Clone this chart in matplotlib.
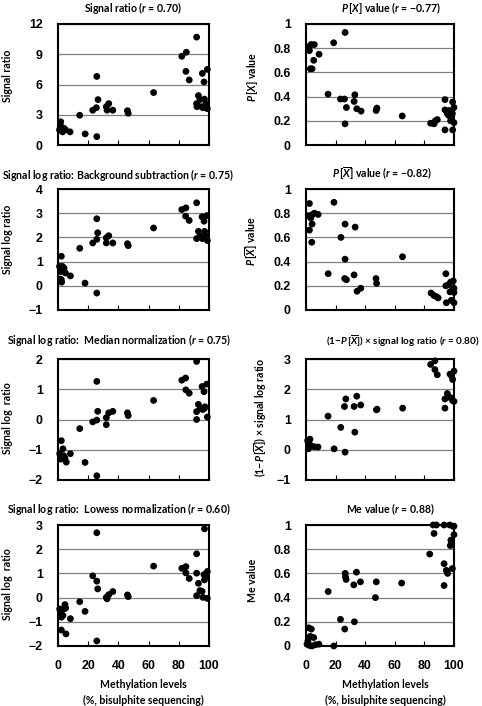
import matplotlib
matplotlib.use('Agg')
import matplotlib.pyplot as plt

plt.rcParams['mathtext.fontset'] = 'custom'
plt.rcParams['mathtext.rm'] = 'Lato:bold'
plt.rcParams['mathtext.it'] = 'Lato:italic:bold'
plt.rcParams['mathtext.bf'] = 'Lato:bold'

# ---------------- data ----------------
sr_x = [1.8, 2.2, 1, 3, 4, 5, 8, 14.4, 18, 25.7, 26.5, 25.4, 23, 25.7, 32, 33.6, 32.5, 36.3, 46, 46.5,
        63.3, 82, 85, 84.7, 86.9, 91.8, 93, 91.8, 92, 94, 95.6, 96.7, 97, 98, 98.9, 98.9, 96, 95]
sr_y = [2.3, 1.8, 1.5, 1.3, 1.65, 1.5, 1.3, 2.95, 1.1, 6.8, 4.5, 3.7, 3.45, 0.83, 3.8, 4.1, 3.45, 3.45, 3.4, 3.15,
        5.2, 8.8, 9.2, 7.3, 6.45, 10.7, 4.9, 4.1, 3.8, 4.5, 7.1, 6.25, 4.55, 4.1, 7.5, 3.6, 3.7, 3.8]

px_x = [1.8, 2.3, 3.4, 5.6, 2.9, 4.1, 5.2, 8.8, 18.7, 26.4, 14.9, 23.3, 26, 27.3, 26.4, 33, 32.5, 34.3, 37.2,
        47.4, 47.9, 65, 84.2, 86.5, 87.4, 88.7, 93.9, 93.9, 93.9, 95.5, 96.4, 97.7, 99.1, 98.9, 99.1, 100,
        100, 96.6, 98.2]
px_y = [0.81, 0.78, 0.83, 0.83, 0.63, 0.63, 0.70, 0.75, 0.845, 0.93, 0.42, 0.38, 0.38, 0.31, 0.175, 0.415,
        0.36, 0.30, 0.28, 0.285, 0.305, 0.24, 0.18, 0.175, 0.20, 0.21, 0.375, 0.29, 0.125, 0.26, 0.245, 0.20,
        0.355, 0.26, 0.125, 0.31, 0.185, 0.285, 0.21]

bg_x = [2.2, 1, 2.9, 4, 1.8, 4.9, 8.2, 1.5, 2.4, 2.2, 14.4, 17.9, 25.7, 26.3, 25.7, 23, 25.7, 32, 33.6, 32,
        36.3, 46, 46.5, 63.3, 82, 84.7, 84.5, 86.9, 91.8, 93, 91.8, 95.4, 96.7, 97.1, 97.3, 98.5, 98.9, 95.6,
        94, 96.7]
bg_y = [1.22, 0.80, 0.80, 0.73, 0.59, 0.53, 0.41, 0.28, 0.15, 0.25, 1.55, 0.11, 2.77, 2.19, 1.92, 1.77, -0.30,
        1.98, 2.07, 1.77, 1.77, 1.74, 1.66, 2.39, 3.15, 3.22, 2.88, 2.70, 3.43, 2.25, 1.95, 2.85, 2.67, 2.25,
        2.1, 2.9, 1.87, 1.95, 2.05, 2.0]

pxb_x = [2.3, 1.8, 3.2, 4.5, 5.7, 8.2, 4.1, 2.3, 3.9, 18.9, 15, 23.6, 26.4, 26.4, 26.1, 27.3, 33.2, 32.5, 34.5,
         37, 47.3, 47.7, 65.2, 84.5, 86.4, 88.2, 89.3, 94.5, 94.5, 94.8, 96.4, 97.7, 99.5, 98.9, 98.2, 100,
         100, 100, 97.3]
pxb_y = [0.88, 0.78, 0.76, 0.79, 0.80, 0.79, 0.71, 0.66, 0.56, 0.89, 0.30, 0.60, 0.71, 0.42, 0.26, 0.25, 0.685,
         0.29, 0.155, 0.18, 0.26, 0.22, 0.44, 0.14, 0.12, 0.11, 0.10, 0.30, 0.20, 0.06, 0.21, 0.23, 0.24, 0.165,
         0.08, 0.06, 0.145, 0.18, 0.15]

med_x = [2.2, 3.3, 1.1, 2.2, 3.8, 4.6, 5.5, 8.2, 1.8, 14.4, 17.9, 25.7, 26.3, 25.7, 23, 25.7, 32, 33.6, 32,
         36.3, 46, 46.5, 63.3, 82, 84.5, 84.7, 86.9, 91.8, 93, 91.8, 91.8, 95.4, 96.7, 97, 94.2, 98.5, 98.9,
         97.3, 95.8]
med_y = [-0.70, -0.97, -1.13, -1.22, -1.2, -1.28, -1.41, -1.13, -1.31, -0.30, -1.42, 1.26, 0.27, -0.02, -0.08,
         -1.86, 0.06, 0.22, -0.17, 0.27, 0.22, 0.13, 0.63, 1.3, 1.37, 0.98, 0.87, 1.92, 0.5, 0.26, 0.0, 1.09,
         0.92, 0.37, 0.36, 1.17, 0.08, 0.42, 0.33]

wlr_x = [1.1, 2.7, 2.3, 3.8, 1.6, 5.6, 8.1, 14.9, 19, 26.9, 26, 23.5, 26.4, 34.3, 32.5, 37, 33, 47.6, 48,
         65.3, 84.2, 87.1, 87.1, 88.7, 93.9, 93.9, 95.5, 96.4, 97.7, 98.2, 99.1, 100, 99.1, 100, 97.3]
wlr_y = [0.30, 0.35, 0.18, 0.125, 0.03, 0.1, 0.09, 1.11, 0.03, 1.68, 1.43, 0.74, -0.08, 1.77, 1.43, 1.48, 0.58,
         1.32, 1.34, 1.375, 2.82, 2.94, 2.65, 2.48, 1.375, 1.68, 1.86, 1.75, 1.72, 2.45, 2.32, 2.6, 1.625, 1.6,
         2.5]

low_x = [1.1, 1.8, 2.2, 3.3, 4, 4.6, 5.1, 8.2, 2.2, 5.3, 14.4, 17.9, 25.7, 23, 25.7, 26.3, 25.7, 32, 33.6,
         32.5, 36.3, 46, 46.5, 63.3, 82, 84.7, 84.7, 86.9, 91.8, 91.8, 93, 91.8, 94, 95.4, 96.7, 97, 98, 97,
         98.9, 98.9, 96]
low_y = [-0.47, -0.65, -0.81, -0.74, -0.47, -0.29, -0.43, -0.87, -1.34, -1.5, -0.17, -0.57, 2.68, 0.90, 0.68,
         0.36, -1.79, 0.01, 0.12, -0.05, 0.25, 0.11, 0.04, 1.30, 1.21, 1.28, 1.02, 0.79, 1.81, 1.01, 0.59, 0.08,
         0.29, 0.26, 0.95, 0.73, 0.88, 2.84, 1.08, -0.03, 0.01]

me_x = [1.8, 3.6, 2.9, 5.2, 1.3, 2.2, 4, 6.3, 8.7, 0.7, 15, 18.8, 23.3, 26.5, 26.7, 27.1, 26.2, 32.3, 34.1,
        32.7, 36.8, 47.5, 46.9, 64.6, 83.6, 85.9, 88.1, 86.5, 93.3, 93.3, 93.3, 94.8, 95.7, 97.1, 97.5, 98.4,
        99.3, 100, 100, 98.9, 97.9]
me_y = [0.15, 0.14, 0.08, 0.07, 0.04, 0.005, 0.0, 0.01, 0.015, 0.015, 0.45, 0.0, 0.22, 0.60, 0.57, 0.55, 0.14,
        0.505, 0.61, 0.20, 0.53, 0.53, 0.40, 0.52, 0.76, 1.0, 1.0, 0.93, 1.0, 0.68, 0.50, 0.625, 0.60, 1.0,
        0.83, 0.86, 0.99, 0.99, 0.92, 0.64, 0.875]

x_ticks = [0, 20, 40, 60, 80, 100]
x_ticklabels = ['0', '20', '40', '60', '80', '100']

yt_sr = [0, 3, 6, 9, 12]
yl_sr = ['0', '3', '6', '9', '12']
yt_p = [0, 0.2, 0.4, 0.6, 0.8, 1]
yl_p = ['0', '0.2', '0.4', '0.6', '0.8', '1']
yt_bg = [-1, 0, 1, 2, 3, 4]
yl_bg = ['\u22121', '0', '1', '2', '3', '4']
yt_med = [-2, -1, 0, 1, 2]
yl_med = ['\u22122', '\u22121', '0', '1', '2']
yt_wlr = [-1, 0, 1, 2, 3]
yl_wlr = ['\u22121', '0', '1', '2', '3']
yt_low = [-2, -1, 0, 1, 2, 3]
yl_low = ['\u22122', '\u22121', '0', '1', '2', '3']

titles = [
    'Signal ratio ($r$ = 0.70)',
    '$P\\,[X]$ value ($r$ = \u22120.77)',
    'Signal log ratio: Background subtraction ($r$ = 0.75)',
    '$P\\,[\\overline{X}]$ value ($r$ = \u22120.82)',
    'Signal log ratio:  Median normalization ($r$ = 0.75)',
    '(1\u2212$P\\,[\\overline{X}]$) \u00d7 signal log ratio ($r$ = 0.80)',
    'Signal log ratio:  Lowess normalization ($r$ = 0.60)',
    'Me value ($r$ = 0.88)',
]
ylabels = [
    'Signal ratio', '$P\\,[X]$ value',
    'Signal log ratio', '$P\\,[\\overline{X}]$ value',
    'Signal log  ratio', '(1\u2212$P\\,[\\overline{X}]$) \u00d7 signal log ratio',
    'Signal log  ratio', 'Me value',
]

panels = [
    (sr_x, sr_y, yt_sr, yl_sr),
    (px_x, px_y, yt_p, yl_p),
    (bg_x, bg_y, yt_bg, yl_bg),
    (pxb_x, pxb_y, yt_p, yl_p),
    (med_x, med_y, yt_med, yl_med),
    (wlr_x, wlr_y, yt_wlr, yl_wlr),
    (low_x, low_y, yt_low, yl_low),
    (me_x, me_y, yt_p, yl_p),
]

# ---------------- layout (pixels) ----------------
W, H = 482, 706
fig = plt.figure(figsize=(W / 100, H / 100), dpi=100)

col_left = [(58, 151), (306, 148)]
row_top = [24, 189, 359, 525]
ax_h = 121

title_pos = [(133, 8), (391, 8), (118, 175), (382, 174), (119, 340), (403, 341), (119, 509), (390, 509)]
title_size = [7.6, 7.6, 7.6, 7.6, 7.6, 7.1, 7.6, 7.6]
ylabel_x = [13, 260, 13, 260, 13, 269, 13, 258]
ylabel_y = [0.57, 0.56, 0.587, 0.57, 0.51, 0.52, 0.51, 0.54]

title_font = dict(family='Lato', weight='bold', size=7.6)
tick_font = dict(family='Liberation Sans', weight='bold', size=8.9)

for i, (xs, ys, yt, yl) in enumerate(panels):
    r, c = divmod(i, 2)
    left, width = col_left[c]
    top = row_top[r]
    ax = fig.add_axes([left / W, (H - top - ax_h) / H, width / W, ax_h / H])
    ax.scatter(xs, ys, s=24, color='black', edgecolors='none', zorder=3, clip_on=False)
    ax.set_xlim(0, 100)
    ax.set_ylim(yt[0], yt[-1])
    ax.set_yticks(yt)
    ax.set_yticklabels(yl, fontdict=tick_font)
    ax.set_xticks(x_ticks)
    if r == 3:
        ax.set_xticklabels(x_ticklabels, fontdict=tick_font)
    else:
        ax.set_xticklabels([])
    ax.tick_params(axis='y', length=0, pad=11)
    ax.tick_params(axis='x', direction='in', length=3.5, width=0.8, pad=10)
    ax.yaxis.grid(True, color='#808080', lw=0.9)
    ax.set_axisbelow(True)
    for sp in ax.spines.values():
        sp.set_linewidth(1.5)
        sp.set_color('black')
        sp.set_zorder(4)
    ax.set_ylabel(ylabels[i], fontdict=title_font)
    ax.yaxis.set_label_coords((ylabel_x[i] - left) / width, ylabel_y[i])
    tx, ty = title_pos[i]
    tf = dict(title_font)
    tf['size'] = title_size[i]
    fig.text(tx / W, 1 - ty / H, titles[i], ha='center', va='center', **tf)

for cx in (143, 385):
    fig.text(cx / W, 1 - 685 / H, 'Methylation levels', ha='center', va='center', **title_font)
    fig.text(cx / W, 1 - 700 / H, '(%, bisulphite sequencing)', ha='center', va='center', **title_font)

fig.savefig('out.png', dpi=100)
